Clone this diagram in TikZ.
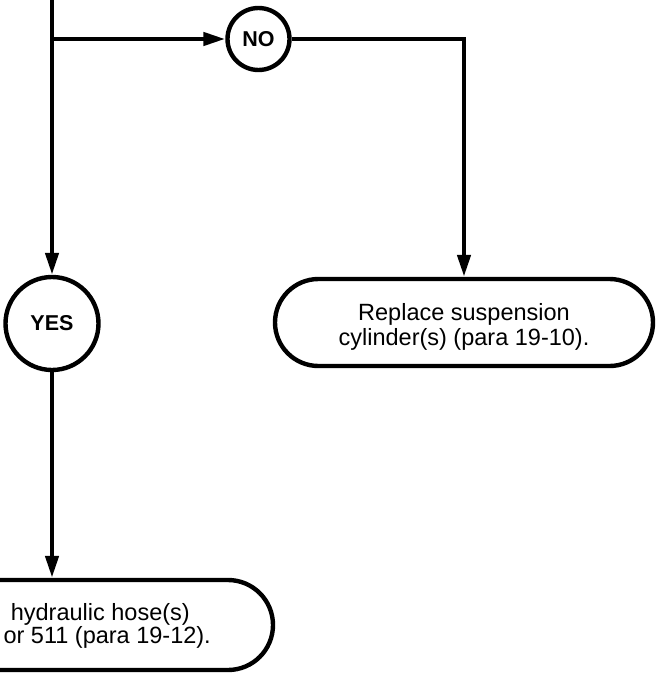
\documentclass[tikz,border=0pt]{standalone}
\usepackage{fontspec}
\setmainfont{Liberation Sans}
\usetikzlibrary{arrows.meta,shapes.misc}
\begin{document}
\begin{tikzpicture}[x=1pt,y=-1pt,
  line width=4.4pt,
  flow/.style={-{Triangle[length=22pt,width=13pt]}},
  decision/.style={circle,draw,inner sep=0pt,font=\bfseries\fontsize{21.5}{21.5}\selectfont},
  action/.style={rounded rectangle,draw,inner sep=0pt},
  boxtext/.style={inner sep=0pt,font=\fontsize{23.5}{25}\selectfont}]
\useasboundingbox (0,0) rectangle (658,677);
\clip (0,0) rectangle (658,677);
\coordinate (top) at (52,-5);
\coordinate (split) at (52,39);
\coordinate (turn) at (464,39);
\node[decision,minimum size=62] (no) at (258.5,39) {NO};
\node[decision,minimum size=93] (yes) at (52,323.5) {YES};
\node[action,minimum width=378,minimum height=87] (repl) at (464,322.5) {};
\node[boxtext,align=center,anchor=base] (repltext) at (464,345) {Replace suspension\\cylinder(s) (para 19-10).};
\node[action,minimum width=442,minimum height=90] (hose) at (52,625) {};
\node[boxtext,anchor=base east] (hose1) at (192,620) {hydraulic hose(s)};
\node[boxtext,anchor=base east] (hose2) at (213,643) {or 511 (para 19-12).};
\draw[flow] (top) -- (yes.north);
\draw[flow] (split) -- (no);
\draw[flow] (no) -- (turn) -- (repl.north);
\draw[flow] (yes) -- (hose.north);
\end{tikzpicture}
\end{document}
